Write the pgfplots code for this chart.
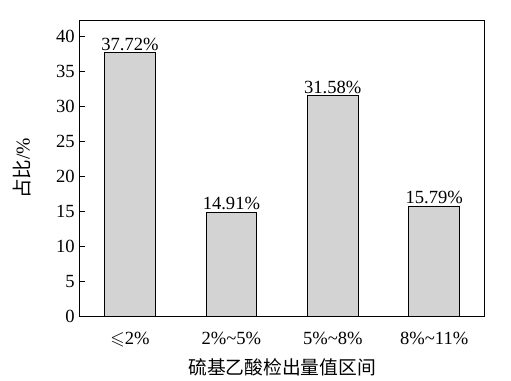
\documentclass[border=0pt]{standalone}
\usepackage{amssymb}
\usepackage{pgfplots}
\pgfplotsset{compat=1.18}
\usepackage{fontspec}
\setmainfont{Liberation Serif}
\newfontfamily\cjk{Noto Sans CJK SC}
\begin{document}
\begin{tikzpicture}
\begin{axis}[
  scale only axis,
  width=404pt, height=294.7pt,
  xmin=-0.5, xmax=3.5,
  ymin=0, ymax=42.35,
  ytick={0,5,...,40},
  xtick={0,1,2,3},
  xticklabels={{$\leqslant$2\%},{2\%\textasciitilde5\%},{5\%\textasciitilde8\%},{8\%\textasciitilde11\%}},
  tick align=inside,
  xtick pos=bottom, ytick pos=left,
  major tick length=6pt,
  tick style={black, line width=0.7pt},
  axis line style={line width=0.8pt},
  /pgf/number format/assume math mode=true,
  tick label style={font=\fontsize{18.5}{20}\selectfont},
  xticklabel style={yshift=-12pt},
  yticklabel style={xshift=-1pt},
  xlabel={\cjk 硫基乙酸检出量值区间},
  ylabel={{\cjk 占比}/\%},
  xlabel style={font=\fontsize{18.7}{20}\selectfont, yshift=-5pt},
  ylabel style={font=\fontsize{19.5}{20}\selectfont, yshift=18pt},
  nodes near coords,
  point meta=explicit symbolic,
  nodes near coords style={font=\fontsize{18.5}{20}\selectfont, inner sep=1.5pt},
]
\addplot[ybar, bar width=0.5, fill={rgb,255:red,211;green,211;blue,211}, draw=black, line width=0.8pt]
  coordinates {(0,37.72)[37.72\%] (1,14.91)[14.91\%] (2,31.58)[31.58\%] (3,15.79)[15.79\%]};
\end{axis}
\path (current axis.south west) ++(-79pt,-64pt) coordinate (bl);
\path (current axis.north east) ++(26pt,20.3pt) coordinate (tr);
\useasboundingbox (bl) rectangle (tr);
\end{tikzpicture}
\end{document}
